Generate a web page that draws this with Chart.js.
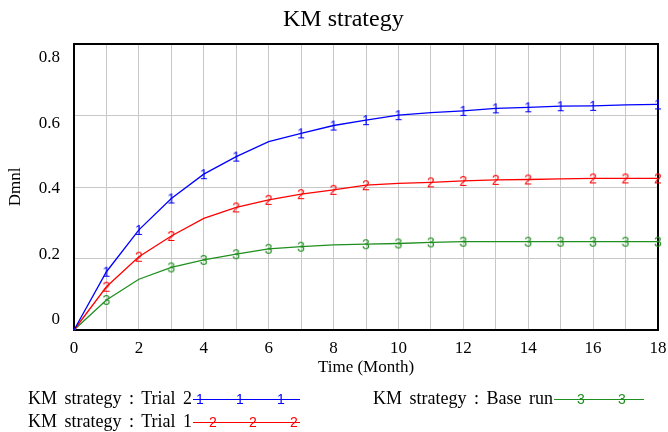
<!DOCTYPE html>
<html>
<head>
<meta charset="utf-8">
<script src="https://cdn.jsdelivr.net/npm/chart.js@4.4.1/dist/chart.umd.min.js"></script>
<style>
  body { margin: 0; background: #fff; }
  #wrap { position: relative; width: 668px; height: 432px; font-family: "Liberation Serif", "Times New Roman", serif; color: #000; }
  #chart { position: absolute; left: 0; top: 0; }
  .title { position: absolute; top: 6px; left: 283px; font-size: 24px; line-height: 24px; white-space: nowrap; }
  .leg { position: absolute; font-size: 18px; line-height: 20px; white-space: nowrap; word-spacing: 3px; }
  .sample { display: inline-block; position: relative; vertical-align: middle; height: 0; border-top: 1.5px solid; margin-left: 1px; }
  .mk { position: absolute; top: -9px; font-family: "Liberation Sans", Arial, sans-serif; font-size: 14px; line-height: 16px; word-spacing: 0; }
</style>
</head>
<body>
<div id="wrap">
  <canvas id="chart" width="668" height="432"></canvas>
  <div class="title">KM strategy</div>
  <div class="leg" style="left:28px; top:388px;">
    <span>KM strategy : Trial 2</span><span class="sample" style="width:107px; border-color:#0000ff; color:#0000ff;"><span class="mk" style="left:3px">1</span><span class="mk" style="left:43px">1</span><span class="mk" style="left:84px">1</span></span>
  </div>
  <div class="leg" style="left:28px; top:411px;">
    <span>KM strategy : Trial 1</span><span class="sample" style="width:107px; border-color:#ff0000; color:#ff0000;"><span class="mk" style="left:16px">2</span><span class="mk" style="left:56px">2</span><span class="mk" style="left:97px">2</span></span>
  </div>
  <div class="leg" style="left:373px; top:388px;">
    <span>KM strategy : Base run</span><span class="sample" style="width:90px; border-color:#1f8f1f; color:#1f8f1f;"><span class="mk" style="left:23px">3</span><span class="mk" style="left:64px">3</span></span>
  </div>
</div>
<script>
// values, one per month
const months = [0, 1, 2, 3, 4, 5, 6, 7, 8, 9, 10, 11, 12, 13, 14, 15, 16, 17, 18];
const trial2 = [0, 0.163, 0.28, 0.368, 0.436, 0.485, 0.527, 0.55, 0.572, 0.587, 0.601, 0.608, 0.613, 0.62, 0.623, 0.626, 0.627, 0.63, 0.631];
const trial1 = [0, 0.121, 0.205, 0.263, 0.312, 0.343, 0.364, 0.38, 0.392, 0.405, 0.41, 0.413, 0.417, 0.42, 0.421, 0.423, 0.424, 0.424, 0.424];
const baseRun = [0, 0.084, 0.142, 0.175, 0.196, 0.212, 0.227, 0.233, 0.238, 0.24, 0.242, 0.245, 0.247, 0.247, 0.247, 0.247, 0.247, 0.247, 0.247];

// months where the run number is printed on the line
const trial2Marks = [1, 2, 3, 4, 5, 7, 8, 9, 10, 12, 13, 14, 15, 16, 18];
const trial1Marks = [1, 2, 3, 5, 6, 7, 8, 9, 11, 12, 13, 14, 16, 17, 18];
const baseMarks = [1, 3, 4, 5, 6, 7, 9, 10, 11, 12, 14, 15, 16, 17, 18];

const yTicks = [0, 0.2, 0.4, 0.6, 0.8];

const SERIF = '"Liberation Serif", "Times New Roman", serif';
const GRID = '#c8c8c8';

function digitMark(ch, color) {
  var c = document.createElement('canvas');
  c.width = 12; c.height = 18;
  var g = c.getContext('2d');
  g.font = '14px "Liberation Sans", Arial, sans-serif';
  g.fillStyle = color;
  g.textAlign = 'center';
  g.textBaseline = 'middle';
  g.fillText(ch, 6, 10);
  return c;
}

function runDataset(label, values, marks, color, digit) {
  var img = digitMark(digit, color);
  return {
    label: label,
    data: months.map(function (m, i) { return { x: m, y: values[i] }; }),
    borderColor: color,
    borderWidth: 1.3,
    tension: 0,
    clip: false,
    pointStyle: img,
    pointRadius: function (ctx) { return marks.indexOf(months[ctx.dataIndex]) >= 0 ? 5 : 0; },
    pointHoverRadius: 0,
  };
}

const frame = {
  id: 'frame',
  beforeDatasetsDraw: function (chart) {
    var a = chart.chartArea, ctx = chart.ctx;
    ctx.save();
    ctx.strokeStyle = '#000';
    ctx.lineWidth = 2;
    ctx.strokeRect(a.left, a.top, a.right - a.left, a.bottom - a.top);
    ctx.restore();
  },
};

new Chart(document.getElementById('chart'), {
  type: 'line',
  data: {
    datasets: [
      runDataset('KM strategy : Trial 2', trial2, trial2Marks, '#0000ff', '1'),
      runDataset('KM strategy : Trial 1', trial1, trial1Marks, '#ff0000', '2'),
      runDataset('KM strategy : Base run', baseRun, baseMarks, '#1f8f1f', '3'),
    ],
  },
  options: {
    responsive: false,
    animation: false,
    layout: { padding: { top: 44, right: 10, bottom: 54, left: 0 } },
    plugins: { legend: { display: false }, tooltip: { enabled: false }, title: { display: false } },
    scales: {
      x: {
        type: 'linear', min: 0, max: 18,
        ticks: {
          stepSize: 1, autoSkip: false, maxRotation: 0, padding: 8,
          color: '#000', font: { family: SERIF, size: 17 },
          callback: function (v) { return v % 2 === 0 ? String(v) : ''; },
        },
        grid: { color: GRID, drawTicks: false },
        border: { display: false },
        title: { display: true, text: 'Time (Month)', color: '#000', font: { family: SERIF, size: 17 }, padding: 0 },
        afterFit: function (s) { s.height = 48; s.paddingLeft = 0; s.paddingRight = 0; },
      },
      y: {
        min: 0, max: 0.8,
        ticks: { stepSize: 0.2, display: false },
        grid: { color: GRID, drawTicks: false },
        border: { display: false },
        afterFit: function (s) { s.width = 0; },
      },
      // Vensim squeezes the value labels a little inside the plot height
      yLabels: {
        position: 'left', weight: 1,
        min: -0.0305, max: 0.8427,
        afterBuildTicks: function (s) { s.ticks = yTicks.map(function (v) { return { value: v }; }); },
        ticks: {
          color: '#000', font: { family: SERIF, size: 17 }, padding: 14,
          callback: function (v) { return v === 0 ? '0' : v.toFixed(1); },
        },
        grid: { display: false, drawTicks: false },
        border: { display: false },
        title: { display: true, text: 'Dmnl', color: '#000', font: { family: SERIF, size: 17 }, padding: { top: 5, bottom: 0 } },
        afterFit: function (s) { s.width = 74; s.paddingTop = 0; s.paddingBottom = 0; },
      },
    },
  },
  plugins: [frame],
});
</script>
</body>
</html>
